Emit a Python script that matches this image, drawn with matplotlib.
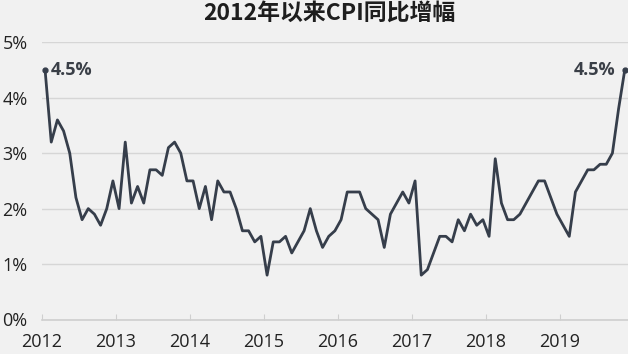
import numpy as np
import matplotlib
matplotlib.use("Agg")
import matplotlib.pyplot as plt

# monthly CPI yoy (%), Jan 2012 - Nov 2019
cpi_2012 = [4.5, 3.2, 3.6, 3.4, 3.0, 2.2, 1.8, 2.0, 1.9, 1.7, 2.0, 2.5]
cpi_2013 = [2.0, 3.2, 2.1, 2.4, 2.1, 2.7, 2.7, 2.6, 3.1, 3.2, 3.0, 2.5]
cpi_2014 = [2.5, 2.0, 2.4, 1.8, 2.5, 2.3, 2.3, 2.0, 1.6, 1.6, 1.4, 1.5]
cpi_2015 = [0.8, 1.4, 1.4, 1.5, 1.2, 1.4, 1.6, 2.0, 1.6, 1.3, 1.5, 1.6]
cpi_2016 = [1.8, 2.3, 2.3, 2.3, 2.0, 1.9, 1.8, 1.3, 1.9, 2.1, 2.3, 2.1]
cpi_2017 = [2.5, 0.8, 0.9, 1.2, 1.5, 1.5, 1.4, 1.8, 1.6, 1.9, 1.7, 1.8]
cpi_2018 = [1.5, 2.9, 2.1, 1.8, 1.8, 1.9, 2.1, 2.3, 2.5, 2.5, 2.2, 1.9]
cpi_2019 = [1.7, 1.5, 2.3, 2.5, 2.7, 2.7, 2.8, 2.8, 3.0, 3.8, 4.5]
years = [2012, 2013, 2014, 2015, 2016, 2017, 2018, 2019]
yticks = [0, 1, 2, 3, 4, 5]

cpi = np.array(cpi_2012 + cpi_2013 + cpi_2014 + cpi_2015 + cpi_2016
               + cpi_2017 + cpi_2018 + cpi_2019)
t = 2012 + (np.arange(len(cpi)) + 0.5) / 12

bg = "#f1f1f1"
line_c = "#363e4b"
txt_c = "#3a3f47"

fig = plt.figure(figsize=(6.28, 3.54), dpi=100, facecolor=bg)
ax = fig.add_axes([42 / 628, 1 - 319.5 / 354, 1 - 42 / 628, (319.5 - 42.3) / 354])
ax.set_facecolor(bg)

ax.plot(t, cpi, color=line_c, lw=2.0, clip_on=False, zorder=3)
ax.plot([t[0], t[-1]], [cpi[0], cpi[-1]], "o", color=line_c, ms=3.5,
        clip_on=False, zorder=4)
ax.text(t[0] + 0.08, cpi[0], f"{cpi[0]:.1f}%", ha="left", va="center",
        fontsize=13, fontweight="bold", color=txt_c, family="Open Sans")
ax.text(t[-1] - 0.12, cpi[-1], f"{cpi[-1]:.1f}%", ha="right", va="center",
        fontsize=13, fontweight="bold", color=txt_c, family="Open Sans")

ax.set_xlim(2012, 2012 + (628 - 42) / 74.0)
ax.set_ylim(0, 5)
ax.set_yticks(yticks)
ax.set_yticklabels([f"{v}%" for v in yticks])
ax.set_xticks(years)
ax.set_xticklabels([str(y) for y in years])
ax.grid(axis="y", color="#d6d6d6", lw=1.0)
ax.set_axisbelow(True)
for s in ["top", "right", "left"]:
    ax.spines[s].set_visible(False)
ax.spines["bottom"].set_color("#cfcfcf")
ax.spines["bottom"].set_linewidth(1.2)
ax.tick_params(axis="y", length=0, pad=28.5, labelsize=13, labelcolor="#222222")
ax.tick_params(axis="x", direction="in", length=4, color="#cfcfcf",
               pad=10, labelsize=13, labelcolor="#222222")
for lab in ax.get_yticklabels():
    lab.set_horizontalalignment("left")
for lab in ax.get_xticklabels() + ax.get_yticklabels():
    lab.set_family("Open Sans")

fig.text(0.525, 0.963, "2012年以来CPI同比增幅", ha="center", va="center",
         fontsize=16.5, fontweight="heavy", color="#1e1e1e",
         family=["Noto Sans CJK SC", "DejaVu Sans"])

fig.savefig("out.png", dpi=100, facecolor=bg)
plt.close("all")
